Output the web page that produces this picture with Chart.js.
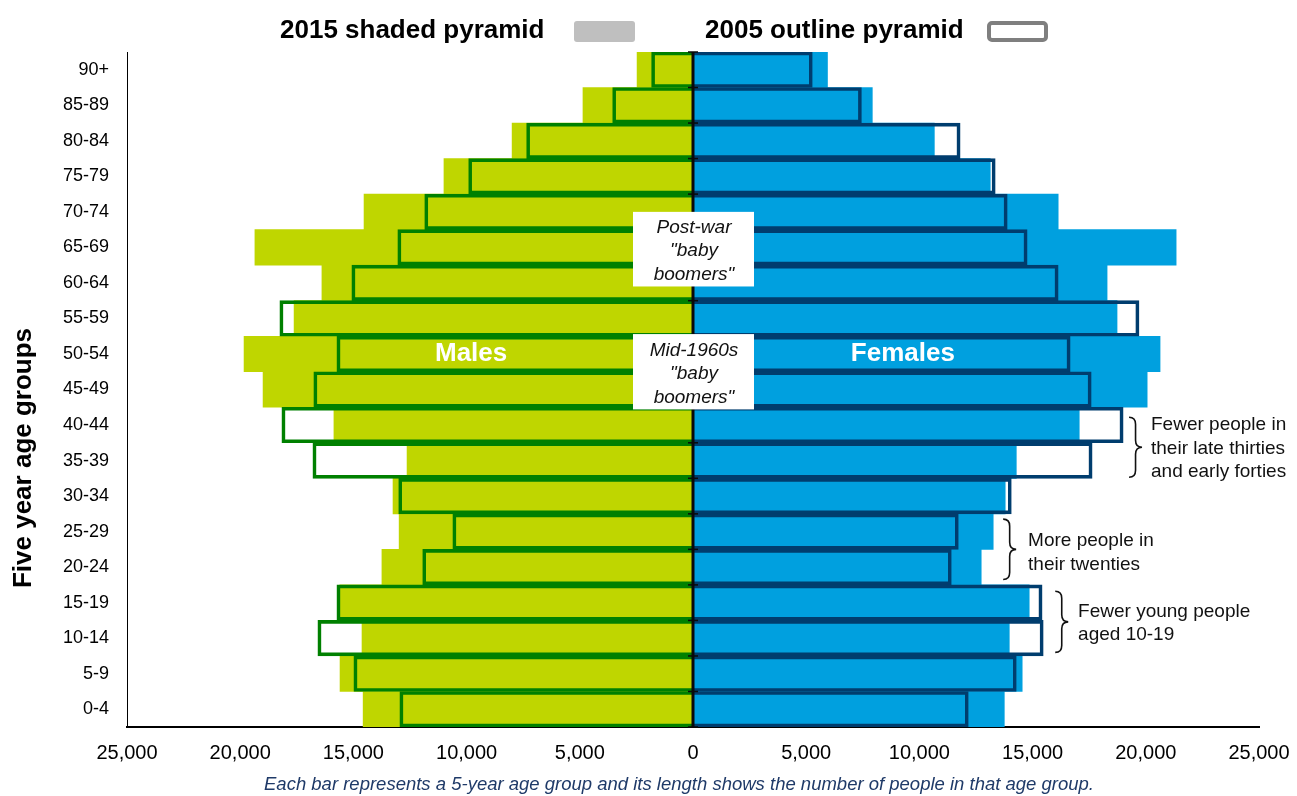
<!DOCTYPE html>
<html>
<head>
<meta charset="utf-8">
<title>Population pyramid 2005 / 2015</title>
<script src="https://cdn.jsdelivr.net/npm/chart.js@4.4.1/dist/chart.umd.min.js"></script>
<style>
  html, body { margin: 0; padding: 0; background: #fff; }
  #wrap { position: relative; width: 1297px; height: 796px; }
</style>
</head>
<body>
<div id="wrap"><canvas id="pyramid"></canvas></div>
<script>
// age groups, top of the pyramid first
const ageGroups = ['90+', '85-89', '80-84', '75-79', '70-74', '65-69', '60-64', '55-59', '50-54',
  '45-49', '40-44', '35-39', '30-34', '25-29', '20-24', '15-19', '10-14', '5-9', '0-4'];

// 2015 (shaded)
const males2015 = [2470, 4860, 7990, 11000, 14530, 19350, 16390, 17620, 19830,
  18990, 15860, 12630, 13250, 12980, 13740, 15600, 14620, 15590, 14570];
const females2015 = [5940, 7920, 10660, 13130, 16130, 21340, 18290, 18730, 20630,
  20060, 17060, 14280, 13790, 13260, 12730, 14850, 13970, 14540, 13750];

// 2005 (outline)
const males2005 = [1830, 3550, 7350, 9910, 11850, 13040, 15070, 18250, 15730,
  16750, 18160, 16790, 13000, 10610, 11940, 15730, 16570, 14980, 12950];
const females2005 = [5270, 7440, 11800, 13350, 13880, 14760, 16130, 19700, 16660,
  17590, 19000, 17630, 14060, 11720, 11410, 15420, 15470, 14280, 12160];

const xTickStep = 5000;
const xLimit = 25000;

const FONT = "'Liberation Sans', Arial, sans-serif";
Chart.defaults.font.family = FONT;
Chart.defaults.color = '#000';

// notes drawn on top of the chart (value / category-index positions)
const boxNotes = [
  { lines: ['Post-war', '"baby', 'boomers"'], from: 4.0, to: 6.1 },
  { lines: ['Mid-1960s', '"baby', 'boomers"'], from: 7.44, to: 9.56 }
];
const braceNotes = [
  { x: 19260, from: 9.78, to: 11.47, tx: 20230, ty: 10.0, lines: ['Fewer people in', 'their late thirties', 'and early forties'] },
  { x: 13700, from: 12.65, to: 14.35, tx: 14800, ty: 13.27, lines: ['More people in', 'their twenties'] },
  { x: 16000, from: 14.68, to: 16.4, tx: 17010, ty: 15.25, lines: ['Fewer young people', 'aged 10-19'] }
];

function brace(ctx, x, y1, y2, w) {
  const mid = (y1 + y2) / 2, r = 7, xm = x + w / 2;
  ctx.beginPath();
  ctx.moveTo(x, y1);
  ctx.quadraticCurveTo(xm, y1, xm, y1 + r);
  ctx.lineTo(xm, mid - r);
  ctx.quadraticCurveTo(xm, mid, x + w, mid);
  ctx.quadraticCurveTo(xm, mid, xm, mid + r);
  ctx.lineTo(xm, y2 - r);
  ctx.quadraticCurveTo(xm, y2, x, y2);
  ctx.stroke();
}

const overlay = {
  id: 'overlay',
  afterDatasetsDraw(chart) {
    const ctx = chart.ctx, xs = chart.scales.x, ys = chart.scales.y, a = chart.chartArea;
    const x0 = xs.getPixelForValue(0);
    ctx.save();
    // zero axis with small ticks
    ctx.strokeStyle = '#0a0a0a';
    ctx.lineWidth = 3;
    ctx.beginPath();
    ctx.moveTo(x0, a.top);
    ctx.lineTo(x0, a.bottom);
    ctx.stroke();
    ctx.lineWidth = 1.5;
    for (let i = 0; i <= ageGroups.length; i++) {
      const y = ys.getPixelForValue(i - 0.5);
      ctx.beginPath();
      ctx.moveTo(x0 - 5, y);
      ctx.lineTo(x0 + 5, y);
      ctx.stroke();
    }
    ctx.restore();
  },
  afterDraw(chart) {
    const ctx = chart.ctx, xs = chart.scales.x, ys = chart.scales.y;
    const x0 = xs.getPixelForValue(0);
    ctx.save();

    // Males / Females labels
    ctx.fillStyle = '#fff';
    ctx.font = 'bold 26px ' + FONT;
    ctx.textAlign = 'center';
    ctx.textBaseline = 'middle';
    ctx.fillText('Males', xs.getPixelForValue(-9800), ys.getPixelForValue(8));
    ctx.fillText('Females', xs.getPixelForValue(9270), ys.getPixelForValue(8));

    // white note boxes on the centre line
    ctx.font = 'italic 19px ' + FONT;
    boxNotes.forEach(n => {
      const top = ys.getPixelForValue(n.from), bot = ys.getPixelForValue(n.to);
      ctx.fillStyle = '#fff';
      ctx.fillRect(x0 - 60, top, 121, bot - top);
      ctx.fillStyle = '#111';
      const mid = (top + bot) / 2;
      n.lines.forEach((t, i) => ctx.fillText(t, x0 + 1, mid + (i - (n.lines.length - 1) / 2) * 23.5 + 2));
    });

    // braces + side notes
    ctx.strokeStyle = '#111';
    ctx.lineWidth = 1.6;
    ctx.font = '19px ' + FONT;
    ctx.textAlign = 'left';
    ctx.fillStyle = '#111';
    braceNotes.forEach(n => {
      brace(ctx, xs.getPixelForValue(n.x), ys.getPixelForValue(n.from), ys.getPixelForValue(n.to), 13);
      const y = ys.getPixelForValue(n.ty);
      n.lines.forEach((t, i) => ctx.fillText(t, xs.getPixelForValue(n.tx), y + i * 23.5));
    });

    // axis title
    ctx.save();
    ctx.translate(24, 458);
    ctx.rotate(-Math.PI / 2);
    ctx.textAlign = 'center';
    ctx.font = 'bold 26px ' + FONT;
    ctx.fillStyle = '#000';
    ctx.fillText('Five year age groups', 0, 0);
    ctx.restore();

    // legend
    ctx.font = 'bold 26px ' + FONT;
    ctx.fillStyle = '#000';
    ctx.textAlign = 'left';
    ctx.fillText('2015 shaded pyramid', 280, 31);
    ctx.fillText('2005 outline pyramid', 705, 31);
    ctx.fillStyle = '#bfbfbf';
    ctx.beginPath();
    ctx.roundRect(574, 21, 61, 21, 3);
    ctx.fill();
    ctx.strokeStyle = '#7f7f7f';
    ctx.lineWidth = 4;
    ctx.beginPath();
    ctx.roundRect(989, 23, 57, 17, 3);
    ctx.stroke();

    // footnote
    ctx.font = 'italic 18.5px ' + FONT;
    ctx.fillStyle = '#1f3a68';
    ctx.textAlign = 'center';
    ctx.fillText('Each bar represents a 5-year age group and its length shows the number of people in that age group.', 679, 785);
    ctx.restore();
  }
};

const fillBar = { grouped: false, barPercentage: 1, categoryPercentage: 1, borderWidth: 0, order: 2 };
const lineBar = { grouped: false, barPercentage: 1, categoryPercentage: 1, borderWidth: 3,
  backgroundColor: 'rgba(0,0,0,0)', order: 1 };

new Chart(document.getElementById('pyramid'), {
  type: 'bar',
  data: {
    labels: ageGroups,
    datasets: [
      Object.assign({ label: 'Males 2015', data: males2015.map(v => -v), backgroundColor: '#bfd600' }, fillBar),
      Object.assign({ label: 'Females 2015', data: females2015, backgroundColor: '#00a0df' }, fillBar),
      Object.assign({ label: 'Males 2005', data: males2005.map(v => -v), borderColor: '#008000' }, lineBar),
      Object.assign({ label: 'Females 2005', data: females2005, borderColor: '#003d6e' }, lineBar)
    ]
  },
  options: {
    indexAxis: 'y',
    responsive: true,
    maintainAspectRatio: false,
    animation: false,
    layout: { padding: { top: 52, right: 38, left: 0, bottom: 0 } },
    plugins: { legend: { display: false }, tooltip: { enabled: false } },
    scales: {
      x: {
        min: -xLimit,
        max: xLimit,
        ticks: {
          stepSize: xTickStep,
          maxRotation: 0,
          padding: 14,
          font: { size: 20 },
          color: '#000',
          callback: v => Math.abs(v).toLocaleString('en-US')
        },
        grid: { display: false, drawTicks: false },
        border: { display: true, color: '#000', width: 2 },
        afterFit: s => { s.height = 69; s.paddingLeft = 0; s.paddingRight = 0; }
      },
      y: {
        ticks: { font: { size: 18 }, color: '#000', padding: 18 },
        grid: { display: false, drawTicks: false },
        border: { display: true, color: '#000', width: 1 },
        afterFit: s => { s.width = 127; }
      }
    }
  },
  plugins: [overlay]
});
</script>
</body>
</html>
